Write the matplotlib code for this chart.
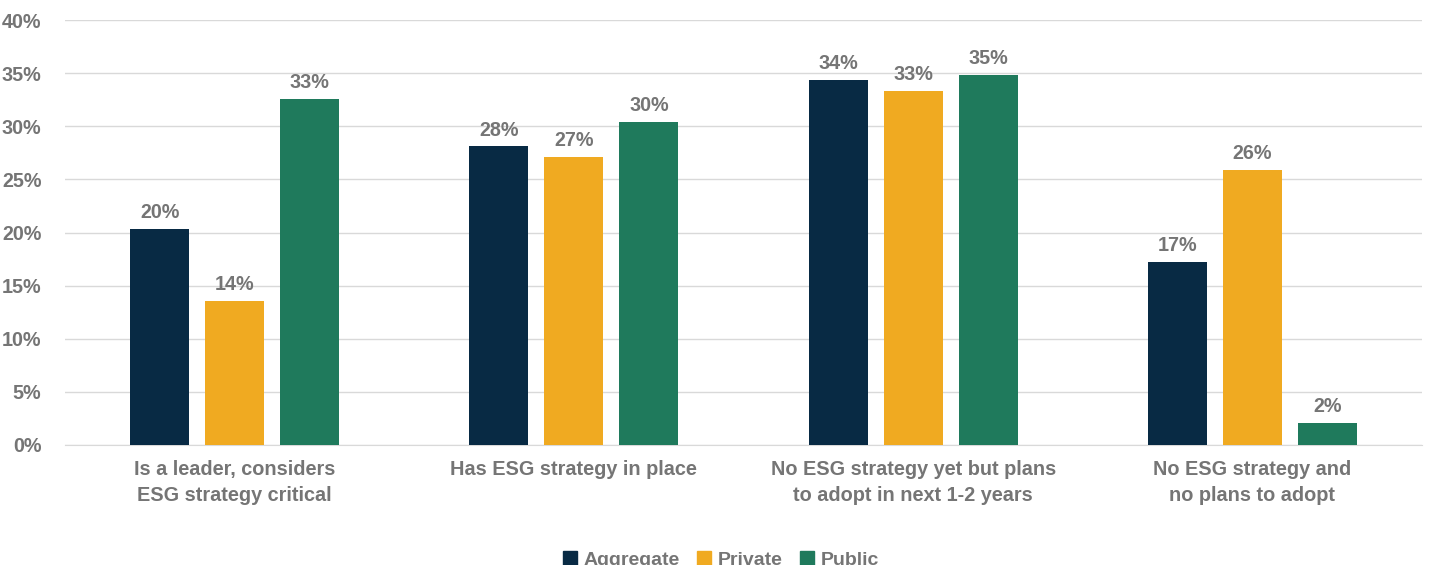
import matplotlib.pyplot as plt
import numpy as np
from matplotlib.ticker import PercentFormatter
from matplotlib.patches import Patch

categories = [
    "Is a leader, considers\nESG strategy critical",
    "Has ESG strategy in place",
    "No ESG strategy yet but plans\nto adopt in next 1-2 years",
    "No ESG strategy and\nno plans to adopt",
]
series_names = ["Aggregate", "Private", "Public"]
aggregate = [20.3, 28.1, 34.4, 17.2]
private = [13.6, 27.1, 33.3, 25.9]
public = [32.6, 30.4, 34.8, 2.1]
labels = [
    ["20%", "28%", "34%", "17%"],
    ["14%", "27%", "33%", "26%"],
    ["33%", "30%", "35%", "2%"],
]
colors = ["#082A44", "#F0AA21", "#1F7A5C"]
text_grey = "#757575"

plt.rcParams['font.family'] = ['Liberation Sans', 'DejaVu Sans']

fig = plt.figure(figsize=(14.34, 5.65), dpi=100)
ax = fig.add_axes([65 / 1434, 1 - 445 / 565, (1422 - 65) / 1434, 425 / 565])

x = np.arange(len(categories))
width = 0.174
step = 0.221
for i, (vals, color) in enumerate(zip([aggregate, private, public], colors)):
    pos = x + (i - 1) * step
    ax.bar(pos, vals, width=width, color=color, zorder=3)
    for px, v, lab in zip(pos, vals, labels[i]):
        ax.text(px, v + 0.65, lab, ha="center", va="bottom", fontsize=14.2,
                fontweight="bold", color=text_grey)

ax.set_xlim(-0.5, len(categories) - 0.5)
ax.set_ylim(0, 40)
ax.set_yticks(np.arange(0, 41, 5))
ax.yaxis.set_major_formatter(PercentFormatter(decimals=0))
ax.grid(axis="y", color="#D9D9D9", linewidth=1, zorder=0)
for s in ["top", "right", "left"]:
    ax.spines[s].set_visible(False)
ax.spines["bottom"].set_color("#D9D9D9")
ax.tick_params(axis="both", length=0, labelsize=14.2, labelcolor=text_grey)
ax.tick_params(axis="y", pad=17)
ax.tick_params(axis="x", pad=11)
ax.set_xticks(x)
ax.set_xticklabels(categories, fontweight="bold", fontsize=14.3, linespacing=1.45)
for t in ax.get_yticklabels():
    t.set_fontweight("bold")

handles = [Patch(color=c) for c in colors]
fig.legend(handles, series_names, loc="center", bbox_to_anchor=(721 / 1434, 1 - 560 / 565),
           ncol=3, frameon=False, handlelength=0.7, handleheight=0.7,
           handletextpad=0.35, columnspacing=0.9,
           prop={"weight": "bold", "size": 14})
for t in fig.legends[0].get_texts():
    t.set_color(text_grey)

fig.savefig("out.png", dpi=100)
